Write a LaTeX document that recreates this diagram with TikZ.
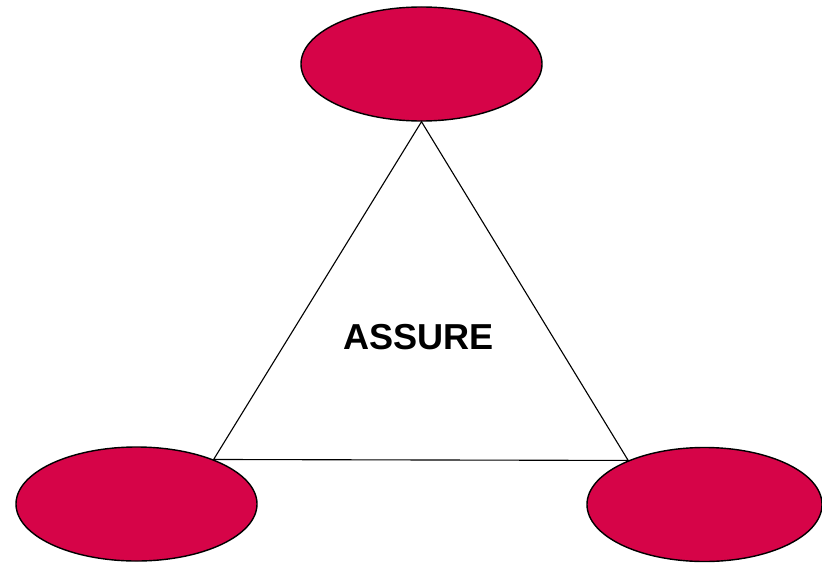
\documentclass[tikz,border=0pt]{standalone}
\usepackage{fontspec}
\setmainfont{Liberation Sans}
\usepackage{tikz}
\usetikzlibrary{shapes.geometric}
\usepackage{xcolor}
\definecolor{assurered}{RGB}{214,4,72}

\begin{document}
\begin{tikzpicture}[x=0.03cm,y=-0.03cm,line cap=round,
  blob/.style={ellipse,draw=black,line width=1.2pt,fill=assurered,minimum width=7.23cm,minimum height=3.42cm,inner sep=0pt}]
\useasboundingbox (0,0) rectangle (822,563);
\node[blob] (top) at (421.5,64) {};
\node[blob] (left) at (136.5,504) {};
\node[blob,minimum width=7.05cm] (right) at (704.5,504.5) {};
\draw[line width=0.95pt] (top.south) -- (right.150) -- (left.30) -- cycle;
\node[font=\fontsize{30.8}{36}\selectfont\bfseries] (assure) at (418.5,337) {ASSURE};
\end{tikzpicture}
\end{document}
